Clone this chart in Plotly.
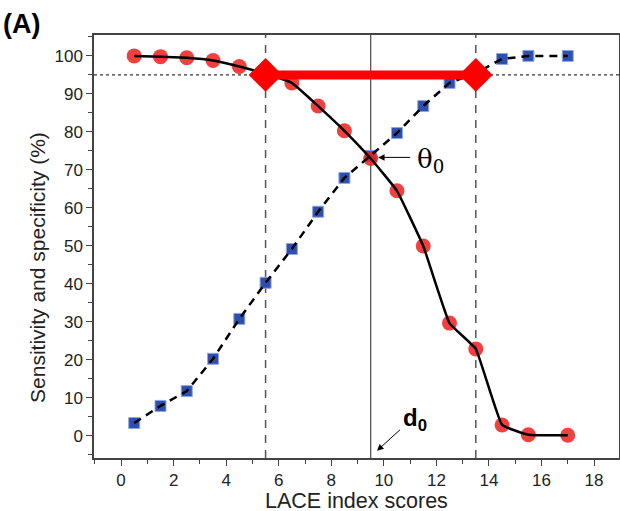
import plotly.graph_objects as go

# Data
scores = [0.5, 1.5, 2.5, 3.5, 4.5, 5.5, 6.5, 7.5, 8.5, 9.5, 10.5, 11.5, 12.5, 13.5, 14.5, 15.5, 17]
sensitivity = [100, 99.8, 99.5, 98.8, 97.2, 95.3, 92.9, 86.8, 80.3, 73.0, 64.5, 50.0, 29.7, 22.9, 2.9, 0.3, 0.2]
specificity = [3.4, 7.9, 11.8, 20.3, 30.8, 40.3, 49.2, 59.0, 67.9, 73.7, 79.7, 86.8, 92.9, 95.5, 99.2, 100, 100]

ci_x = [5.5, 13.5]
ci_y = [95, 95]
theta0_x = 9.5
target_level = 95

x_ticks = [0, 2, 4, 6, 8, 10, 12, 14, 16, 18]
y_ticks = [0, 10, 20, 30, 40, 50, 60, 70, 80, 90, 100]

x_title = "LACE index scores"
y_title = "Sensitivity and specificity (%)"

FONT = "Liberation Sans, Arial, sans-serif"
FRAME = "#444444"

fig = go.Figure()

# markers first (lines are drawn over them)
fig.add_trace(go.Scatter(
    x=scores, y=specificity, mode="markers",
    marker=dict(symbol="square", size=11, color="#2f4fae",
                line=dict(color="#8fa6e0", width=1)),
    hoverinfo="skip", showlegend=False))
fig.add_trace(go.Scatter(
    x=scores, y=sensitivity, mode="markers",
    marker=dict(symbol="circle", size=15, color="rgba(240,30,30,0.85)"),
    hoverinfo="skip", showlegend=False))
fig.add_trace(go.Scatter(
    x=scores, y=specificity, mode="lines",
    line=dict(color="black", width=2.5, dash="8px,6px"),
    hoverinfo="skip", showlegend=False))
fig.add_trace(go.Scatter(
    x=scores, y=sensitivity, mode="lines",
    line=dict(color="black", width=2.5, shape="spline", smoothing=0.3),
    hoverinfo="skip", showlegend=False))
fig.add_trace(go.Scatter(
    x=ci_x, y=ci_y, mode="lines+markers",
    line=dict(color="#ff0000", width=9),
    marker=dict(symbol="diamond", size=26, color="#ff0000"),
    hoverinfo="skip", showlegend=False))

shapes = [
    dict(type="line", xref="paper", yref="y", x0=0, x1=1, y0=target_level, y1=target_level,
         line=dict(color="black", width=1, dash="dot"), layer="below"),
    dict(type="line", xref="x", yref="paper", x0=ci_x[0], x1=ci_x[0], y0=0, y1=1,
         line=dict(color="#555555", width=1.5, dash="8px,7px"), layer="below"),
    dict(type="line", xref="x", yref="paper", x0=ci_x[1], x1=ci_x[1], y0=0, y1=1,
         line=dict(color="#555555", width=1.5, dash="8px,7px"), layer="below"),
    dict(type="line", xref="x", yref="paper", x0=theta0_x, x1=theta0_x, y0=0, y1=1,
         line=dict(color="#555555", width=1.3), layer="below"),
]

annotations = [
    dict(text="<b>(A)</b>", xref="paper", yref="paper", x=-0.178, y=1.066,
         xanchor="left", yanchor="top", showarrow=False,
         font=dict(family=FONT, size=27, color="black")),
    dict(text=x_title, xref="paper", yref="paper", x=0.5, y=-0.102,
         xanchor="center", yanchor="middle", showarrow=False,
         font=dict(family=FONT, size=21.5, color="#222222")),
    dict(text=y_title, xref="paper", yref="paper", x=-0.108, y=0.45, textangle=-90,
         xanchor="center", yanchor="middle", showarrow=False,
         font=dict(family=FONT, size=21, color="#222222")),
    dict(text="θ<sub>0</sub>", xref="x", yref="y", x=11.78, y=72.6,
         showarrow=False, font=dict(family="DejaVu Serif, serif", size=26, color="black")),
    dict(text=" ", xref="x", yref="y", x=9.78, y=73.3, ax=11.08, ay=73.3,
         axref="x", ayref="y", showarrow=True, arrowhead=2, arrowsize=1.3,
         arrowwidth=1, arrowcolor="black", font=dict(size=2)),
    dict(text="<b>d<sub>0</sub></b>", xref="x", yref="y", x=11.2, y=4.2,
         showarrow=False, font=dict(family=FONT, size=24, color="black")),
    dict(text=" ", xref="x", yref="y", x=9.74, y=-3.9, ax=10.69, ay=2.1,
         axref="x", ayref="y", showarrow=True, arrowhead=2, arrowsize=1.3,
         arrowwidth=1, arrowcolor="black", font=dict(size=2)),
]

fig.update_layout(
    width=620, height=511,
    margin=dict(l=94, r=1, t=35, b=53, autoexpand=False),
    paper_bgcolor="white", plot_bgcolor="white",
    font=dict(family=FONT, size=17, color="#222222"),
    shapes=shapes, annotations=annotations,
    xaxis=dict(range=[-1.03, 18.95], tickvals=x_ticks, ticktext=[str(v) for v in x_ticks],
               ticks="outside", ticklen=6, tickwidth=1.3, tickcolor=FRAME,
               minor=dict(dtick=1, tick0=0, ticks="outside", ticklen=4, tickcolor=FRAME, tickwidth=1),
               showline=True, linecolor=FRAME, linewidth=1.5, mirror=True,
               showgrid=False, zeroline=False, automargin=False),
    yaxis=dict(range=[-5.8, 105.5], tickvals=y_ticks, ticktext=[str(v) for v in y_ticks],
               ticks="outside", ticklen=6, tickwidth=1.3, tickcolor=FRAME,
               minor=dict(dtick=5, tick0=0, ticks="outside", ticklen=4, tickcolor=FRAME, tickwidth=1),
               showline=True, linecolor=FRAME, linewidth=1.5, mirror=True,
               showgrid=False, zeroline=False, automargin=False),
)

fig.write_html("out.html", config={"displayModeBar": False},
               post_script="document.body.style.margin='0';document.body.style.padding='0';")
